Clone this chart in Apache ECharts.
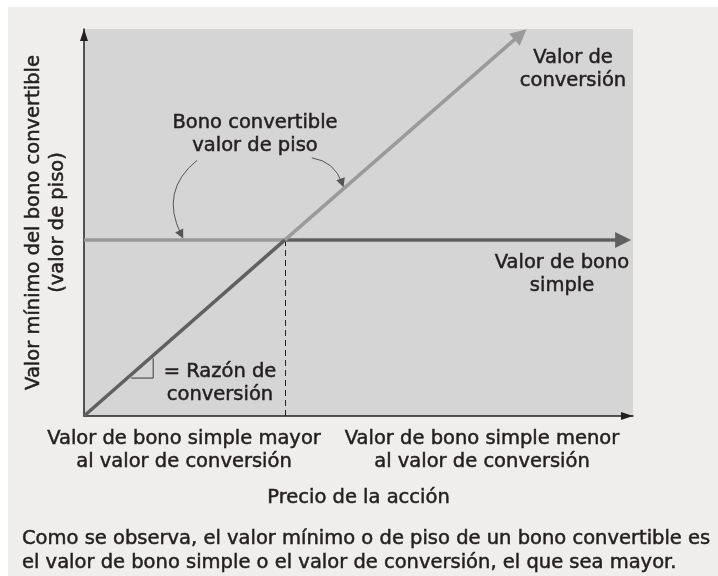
<!DOCTYPE html>
<html>
<head>
<meta charset="utf-8">
<script src="https://cdn.jsdelivr.net/npm/echarts@6/dist/echarts.min.js"></script>
<style>
  html, body { margin: 0; padding: 0; background: #ffffff; }
  #chart { position: absolute; left: 8px; top: 7px; width: 710px; height: 569px; }
</style>
</head>
<body>
<div id="chart"></div>
<script>
// Schematic values (axis units 0..100)
const floorLeft = [[0, 45.5], [36.6, 45.5]]
const straightBond = [[36.6, 45.5], [98.2, 45.5]]
const convLow = [[0, 0], [36.6, 45.5]]
const convHigh = [[36.6, 45.5], [79.5, 98.6]]
const divider = [[36.6, 0], [36.6, 45.5]]
const slopeMark = [[8.6, 9.8], [12.6, 9.8], [12.6, 14.9]]
const calloutLeft = [[20.6, 66.1], [17.7, 46.9]]
const calloutRight = [[41.5, 66.7], [47.0, 60.2]]

const yTitle = 'Valor mínimo del bono convertible\n(valor de piso)'
const xTitle = 'Precio de la acción'
const leftRegion = 'Valor de bono simple mayor\nal valor de conversión'
const rightRegion = 'Valor de bono simple menor\nal valor de conversión'
const caption = 'Como se observa, el valor mínimo o de piso de un bono convertible es\nel valor de bono simple o el valor de conversión, el que sea mayor.'

const FAMILY = '"DejaVu Sans", sans-serif'
const SIZE = 19.5
const FONT = SIZE + 'px ' + FAMILY
const INK = '#231f20'
const DARK = '#606060'
const LIGHT = '#9a9a9a'

const chart = echarts.init(document.getElementById('chart'))

const seg = (coords, color, width, arrow, extra) => Object.assign({
  type: 'lines',
  coordinateSystem: 'cartesian2d',
  polyline: coords.length > 2,
  symbol: arrow ? ['none', 'triangle'] : ['none', 'none'],
  symbolSize: arrow ? [11, 16] : 0,
  silent: true,
  lineStyle: { color: color, width: width, opacity: 1 },
  data: [{ coords: coords }]
}, extra || {})

const text = (str, x, y, align, lh) => ({
  type: 'text',
  x: x - 8,
  y: y - 7,
  style: {
    text: str,
    font: FONT,
    fill: INK,
    stroke: INK,
    lineWidth: 0.5,
    textAlign: align || 'center',
    textVerticalAlign: 'middle',
    lineHeight: lh || 23
  }
})

const nameStyle = (lh) => ({
  color: INK, fontSize: SIZE, fontFamily: FAMILY, lineHeight: lh,
  textBorderColor: INK, textBorderWidth: 0.5
})

chart.setOption({
  backgroundColor: '#efeeec',
  animation: false,
  grid: {
    left: 76, top: 22, width: 549, height: 387,
    show: true, backgroundColor: '#d5d5d5', borderWidth: 0
  },
  xAxis: {
    type: 'value', min: 0, max: 100,
    name: xTitle, nameLocation: 'middle', nameGap: 71,
    nameTextStyle: nameStyle(22),
    axisLine: { lineStyle: { color: INK, width: 1.5 }, symbol: ['none', 'triangle'], symbolSize: [8, 12], symbolOffset: [0, -6] },
    axisTick: { show: false }, axisLabel: { show: false }, splitLine: { show: false }
  },
  yAxis: {
    type: 'value', min: 0, max: 100,
    name: yTitle, nameLocation: 'middle', nameGap: 14, nameRotate: 90,
    nameTextStyle: nameStyle(24),
    axisLine: { lineStyle: { color: INK, width: 1.5 }, symbol: ['none', 'triangle'], symbolSize: [8, 12], symbolOffset: [0, -6] },
    axisTick: { show: false }, axisLabel: { show: false }, splitLine: { show: false }
  },
  series: [
    seg(divider, INK, 1, false, { lineStyle: { color: INK, width: 1, type: [6, 4], opacity: 1 } }),
    seg(floorLeft, LIGHT, 3.5, false),
    seg(straightBond, DARK, 3.5, true),
    seg(convLow, DARK, 3.5, false),
    seg(convHigh, LIGHT, 3.5, true),
    seg(slopeMark, '#3a3a3a', 1, false),
    seg(calloutLeft, '#555', 1, true, { symbolSize: [6, 9], lineStyle: { color: '#555', width: 1, curveness: -0.4, opacity: 1 } }),
    seg(calloutRight, '#555', 1, true, { symbolSize: [6, 9], lineStyle: { color: '#555', width: 1, curveness: 0.3, opacity: 1 } })
  ],
  graphic: [
    text('Bono convertible\nvalor de piso', 255, 134),
    text('Valor de\nconversión', 573, 69),
    text('Valor de bono\nsimple', 562, 274),
    text('= Razón de\nconversión', 220, 383),
    text(leftRegion, 184, 450),
    text(rightRegion, 482, 450),
    text(caption, 22, 551, 'left', 24)
  ]
})
</script>
</body>
</html>
